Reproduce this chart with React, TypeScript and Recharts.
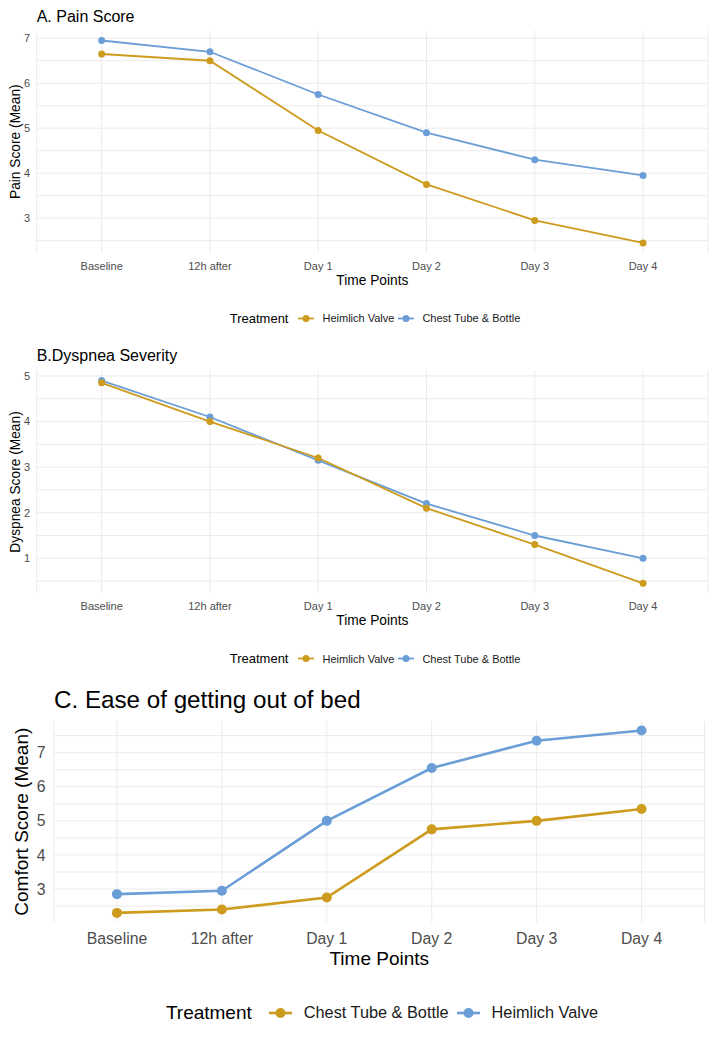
import React from "react";
import { LineChart, Line, XAxis, YAxis, CartesianGrid, Label } from "recharts";

// Shared time axis
const timePoints = ["Baseline", "12h after", "Day 1", "Day 2", "Day 3", "Day 4"];

// A. Pain score (mean)
const painHeimlich = [6.65, 6.5, 4.95, 3.75, 2.95, 2.45];
const painChestTube = [6.95, 6.7, 5.75, 4.9, 4.3, 3.95];

// B. Dyspnea score (mean)
const dyspneaHeimlich = [4.85, 4.0, 3.2, 2.1, 1.3, 0.45];
const dyspneaChestTube = [4.9, 4.1, 3.15, 2.2, 1.5, 1.0];

// C. Comfort score (mean)
const comfortChestTube = [2.3, 2.4, 2.75, 4.75, 5.0, 5.35];
const comfortHeimlich = [2.85, 2.95, 5.0, 6.55, 7.35, 7.65];

// Y tick labels (major) and minor grid values
const painTicks = [3, 4, 5, 6, 7];
const painMinor = [2.5, 3.5, 4.5, 5.5, 6.5];
const dyspneaTicks = [1, 2, 3, 4, 5];
const dyspneaMinor = [0.5, 1.5, 2.5, 3.5, 4.5];
const comfortTicks = [3, 4, 5, 6, 7];
const comfortMinor = [2.5, 3.5, 4.5, 5.5, 6.5, 7.5];

const GOLD = "#CD9B1D";
const BLUE = "#6B9ED6";
const FONT = "'Liberation Sans', Arial, Helvetica, sans-serif";

type Series = { key: string; name: string; color: string };
type Row = { time: string; [k: string]: string | number };

function buildRows(a: number[], b: number[]): Row[] {
  return timePoints.map((time, i) => ({ time, s1: a[i], s2: b[i] }));
}

// ggplot-style 5% expansion of the continuous scale
function expandedDomain(a: number[], b: number[]): [number, number] {
  const all = [...a, ...b];
  const lo = Math.min(...all);
  const hi = Math.max(...all);
  const pad = (hi - lo) * 0.05;
  return [lo - pad, hi + pad];
}

interface PanelSpec {
  top: number;
  height: number;
  margin: { top: number; right: number; bottom: number; left: number };
  yAxisWidth: number;
  xAxisHeight: number;
  rows: Row[];
  draw: Series[];
  legend: Series[];
  yTicks: number[];
  yMinor: number[];
  domain: [number, number];
  title: string;
  titleX: number;
  titleBaseline: number;
  titleSize: number;
  yTitle: string;
  yTitleBaselineX: number;
  xTitleBaselineDy: number;
  axisTitleSize: number;
  tickFont: number;
  xTickMargin: number;
  yTickMargin: number;
  legendCy: number;
  legendCx: number;
  legendTitleSize: number;
  legendTextSize: number;
  keyWidth: number;
  keyGapTitle: number;
  keyGapLabel: number;
  itemGap: number;
  lineWidth: number;
  dotR: number;
}

const WIDTH = 714;

function LegendKey({ color, width, lineWidth, r }: { color: string; width: number; lineWidth: number; r: number }) {
  const h = r * 2 + 4;
  return (
    <svg width={width} height={h} style={{ display: "block" }}>
      <line x1={0} x2={width} y1={h / 2} y2={h / 2} stroke={color} strokeWidth={lineWidth} />
      <circle cx={width / 2} cy={h / 2} r={r} fill={color} />
    </svg>
  );
}

function Panel({ s }: { s: PanelSpec }) {
  const plotWidth = WIDTH - s.margin.left - s.margin.right - s.yAxisWidth;
  const step = plotWidth / (timePoints.length - 1 + 1.2);
  const pad = step * 0.6;

  return (
    <div style={{ position: "absolute", top: s.top, left: 0, width: WIDTH, height: s.height }}>
      <LineChart width={WIDTH} height={s.height} data={s.rows} margin={s.margin} style={{ fontFamily: FONT }}>
        <CartesianGrid
          stroke="#EBEBEB"
          strokeWidth={1}
          vertical
          horizontal
          horizontalValues={[...s.yTicks, ...s.yMinor]}
        />
        <XAxis
          dataKey="time"
          type="category"
          scale="point"
          padding={{ left: pad, right: pad }}
          axisLine={false}
          tickLine={false}
          tickSize={0}
          tickMargin={s.xTickMargin}
          height={s.xAxisHeight}
          interval={0}
          tick={{ fill: "#4D4D4D", fontSize: s.tickFont, fontFamily: FONT }}
        >
          <Label
            content={(props: any) => {
              const vb = props.viewBox || {};
              return (
                <text
                  x={vb.x + vb.width / 2}
                  y={vb.y + s.xTitleBaselineDy}
                  textAnchor="middle"
                  fontSize={s.axisTitleSize}
                  fontFamily={FONT}
                  fill="#000"
                >
                  Time Points
                </text>
              );
            }}
          />
        </XAxis>
        <YAxis
          type="number"
          domain={s.domain}
          ticks={s.yTicks}
          interval={0}
          axisLine={false}
          tickLine={false}
          tickSize={0}
          tickMargin={s.yTickMargin}
          width={s.yAxisWidth}
          tick={{ fill: "#4D4D4D", fontSize: s.tickFont, fontFamily: FONT }}
        >
          <Label
            content={(props: any) => {
              const vb = props.viewBox || {};
              const x = vb.x + s.yTitleBaselineX;
              const y = vb.y + vb.height / 2;
              return (
                <text
                  x={x}
                  y={y}
                  transform={`rotate(-90 ${x} ${y})`}
                  textAnchor="middle"
                  fontSize={s.axisTitleSize}
                  fontFamily={FONT}
                  fill="#000"
                >
                  {s.yTitle}
                </text>
              );
            }}
          />
        </YAxis>
        {s.draw.map((ser) => (
          <Line
            key={ser.key}
            dataKey={ser.key}
            name={ser.name}
            type="linear"
            stroke={ser.color}
            strokeWidth={s.lineWidth}
            dot={{ r: s.dotR, fill: ser.color, stroke: ser.color, strokeWidth: 0 }}
            activeDot={false}
            isAnimationActive={false}
          />
        ))}
      </LineChart>

      <svg
        width={WIDTH}
        height={s.titleBaseline + 12}
        style={{ position: "absolute", left: 0, top: 0, pointerEvents: "none" }}
      >
        <text x={s.titleX} y={s.titleBaseline} fontSize={s.titleSize} fontFamily={FONT} fill="#000">
          {s.title}
        </text>
      </svg>

      <div
        style={{
          position: "absolute",
          left: s.legendCx - 350,
          width: 700,
          top: s.legendCy - 14,
          height: 28,
          display: "flex",
          alignItems: "center",
          justifyContent: "center",
          fontFamily: FONT,
          color: "#000",
          whiteSpace: "nowrap",
        }}
      >
        <span style={{ fontSize: s.legendTitleSize, marginRight: s.keyGapTitle }}>Treatment</span>
        {s.legend.map((ser, i) => (
          <React.Fragment key={ser.key}>
            <span style={{ marginLeft: i === 0 ? 0 : s.itemGap }}>
              <LegendKey color={ser.color} width={s.keyWidth} lineWidth={s.lineWidth} r={s.dotR} />
            </span>
            <span style={{ fontSize: s.legendTextSize, marginLeft: s.keyGapLabel, color: "#1A1A1A" }}>
              {ser.name}
            </span>
          </React.Fragment>
        ))}
      </div>
    </div>
  );
}

const heimlichAB: Series = { key: "s1", name: "Heimlich Valve", color: GOLD };
const chestAB: Series = { key: "s2", name: "Chest Tube & Bottle", color: BLUE };
const chestC: Series = { key: "s1", name: "Chest Tube & Bottle", color: GOLD };
const heimlichC: Series = { key: "s2", name: "Heimlich Valve", color: BLUE };

const smallPanel = {
  yAxisWidth: 36.7,
  xAxisHeight: 40,
  titleX: 36.7,
  titleSize: 16,
  yTitleBaselineX: 20.5,
  xTitleBaselineDy: 31.5,
  axisTitleSize: 13.75,
  tickFont: 11,
  xTickMargin: 8.8,
  yTickMargin: 6.5,
  legendCx: 375,
  legendTitleSize: 13,
  legendTextSize: 11,
  keyWidth: 16,
  keyGapTitle: 10,
  keyGapLabel: 8,
  itemGap: 4,
  lineWidth: 1.8,
  dotR: 3.5,
};

const panelA: PanelSpec = {
  ...smallPanel,
  top: 0,
  height: 330,
  margin: { top: 30.4, right: 6, bottom: 37, left: 0 },
  rows: buildRows(painHeimlich, painChestTube),
  draw: [chestAB, heimlichAB],
  legend: [heimlichAB, chestAB],
  yTicks: painTicks,
  yMinor: painMinor,
  domain: expandedDomain(painHeimlich, painChestTube),
  title: "A. Pain Score",
  titleBaseline: 21.7,
  yTitle: "Pain Score (Mean)",
  legendCy: 318,
};

const panelB: PanelSpec = {
  ...smallPanel,
  top: 330,
  height: 340,
  margin: { top: 40.4, right: 6, bottom: 36.5, left: 0 },
  rows: buildRows(dyspneaHeimlich, dyspneaChestTube),
  draw: [chestAB, heimlichAB],
  legend: [heimlichAB, chestAB],
  yTicks: dyspneaTicks,
  yMinor: dyspneaMinor,
  domain: expandedDomain(dyspneaHeimlich, dyspneaChestTube),
  title: "B.Dyspnea Severity",
  titleBaseline: 30.5,
  yTitle: "Dyspnea Score (Mean)",
  legendCy: 328.7,
};

const panelC: PanelSpec = {
  top: 670,
  height: 368,
  margin: { top: 51.4, right: 9.5, bottom: 66, left: 0 },
  yAxisWidth: 54,
  xAxisHeight: 50,
  rows: buildRows(comfortChestTube, comfortHeimlich),
  draw: [chestC, heimlichC],
  legend: [chestC, heimlichC],
  yTicks: comfortTicks,
  yMinor: comfortMinor,
  domain: expandedDomain(comfortChestTube, comfortHeimlich),
  title: "C. Ease of getting out of bed",
  titleX: 54,
  titleBaseline: 38.3,
  titleSize: 24.2,
  yTitle: "Comfort Score (Mean)",
  yTitleBaselineX: 28,
  xTitleBaselineDy: 43,
  axisTitleSize: 19,
  tickFont: 15.8,
  xTickMargin: 10.6,
  yTickMargin: 8.5,
  legendCy: 342.7,
  legendCx: 382,
  legendTitleSize: 19,
  legendTextSize: 16.3,
  keyWidth: 23,
  keyGapTitle: 17,
  keyGapLabel: 12,
  itemGap: 8,
  lineWidth: 2.6,
  dotR: 5,
};

export default function App() {
  return (
    <div
      style={{
        position: "absolute",
        top: 0,
        left: 0,
        width: WIDTH,
        height: 1038,
        background: "#FFFFFF",
        overflow: "hidden",
      }}
    >
      <Panel s={panelA} />
      <Panel s={panelB} />
      <Panel s={panelC} />
    </div>
  );
}
